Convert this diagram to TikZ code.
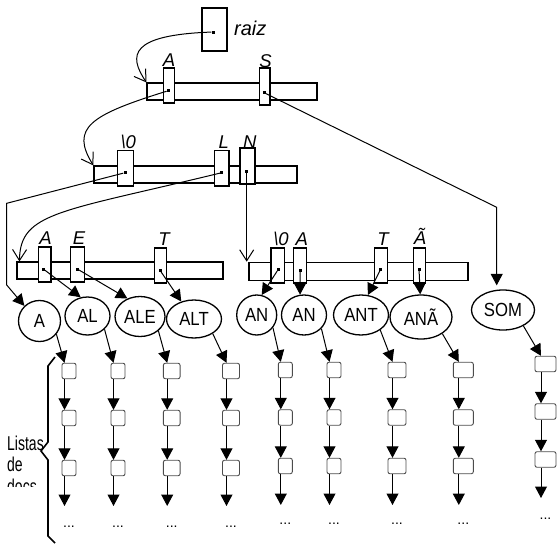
\documentclass[tikz,border=0pt]{standalone}
\usepackage{fontspec}
\usepackage{graphicx}
\setmainfont{Liberation Sans}
\usetikzlibrary{arrows.meta,shapes.geometric,calc}
\newcommand{\elltext}[1]{\scalebox{0.88}[1]{#1}}
\tikzset{
  bar/.style={draw, line width=1.1pt, inner sep=0pt},
  keybox/.style={draw, fill=white, line width=1.4pt, inner sep=0pt},
  dotn/.style={fill, rectangle, minimum size=3pt, inner sep=0pt},
  klabel/.style={anchor=base, inner sep=0pt, font=\fontsize{18.5}{21}\selectfont\itshape},
  ell/.style={draw, ellipse, line width=1.3pt, inner sep=0pt, font=\fontsize{19}{22}\selectfont},
  lbox/.style={draw=black!70, rounded corners=2pt, line width=0.9pt, inner sep=0pt, minimum height=15.5pt},
  openarr/.style={line width=1pt, -{Straight Barb[length=11pt,width=14pt,line width=1pt]}},
  fillarr/.style={line width=1pt, -{Triangle[length=11.5pt,width=12pt]}},
  dotsn/.style={anchor=base, inner sep=0pt, font=\fontsize{14}{16}\selectfont},
  sidetext/.style={anchor=base west, inner sep=0pt, font=\fontsize{20}{22}\selectfont}
}
\begin{document}
\begin{tikzpicture}[x=1pt,y=-1pt]
\useasboundingbox (0,0) rectangle (557,544);

% root
\node[keybox, minimum width=25pt, minimum height=43pt] (root) at (214.5,29.5) {};
\node[dotn] (droot) at (213,32) {};
\node[anchor=base west, inner sep=0pt, font=\fontsize{20}{22}\selectfont\itshape] (traiz) at (234,35) {raiz};

% bars
\node[bar, minimum width=170pt, minimum height=17pt] (b1) at (232,91.5) {};
\node[bar, minimum width=203pt, minimum height=17pt] (b2) at (195.5,174.5) {};
\node[bar, minimum width=206pt, minimum height=17pt] (b3) at (120,270.5) {};
\node[bar, minimum width=219pt, minimum height=18.5pt] (b4) at (358.5,271.5) {};

% keys bar 1
\node[keybox, minimum width=10.5pt, minimum height=35pt] (kA1) at (169,85.5) {};
\node[keybox, minimum width=10.7pt, minimum height=37pt] (kS1) at (264.7,86.5) {};
\node[dotn] (dA1) at (168.3,90.7) {};
\node[dotn] (dS1) at (264,92.7) {};
\node[klabel] (lA1) at (169,66.5) {A};
\node[klabel] (lS1) at (265.5,67.5) {S};

% keys bar 2
\node[keybox, minimum width=15.5pt, minimum height=35.3pt] (k02) at (125.5,168.3) {};
\node[keybox, minimum width=14.7pt, minimum height=35.3pt] (kL2) at (221.7,168.3) {};
\node[keybox, minimum width=15pt, minimum height=36pt] (kN2) at (247.5,166) {};
\node[dotn] (d02) at (125,172.7) {};
\node[dotn] (dL2) at (221.7,172.7) {};
\node[dotn] (dN2) at (246.7,171.7) {};
\node[klabel] (l02) at (128.3,148.5) {\textbackslash 0};
\node[klabel] (lL2) at (223.8,148.3) {L};
\node[klabel] (lN2) at (249.7,148.3) {N};

% keys bar 3
\node[keybox, minimum width=12.7pt, minimum height=35pt] (kA3) at (44.7,264.5) {};
\node[keybox, minimum width=13.6pt, minimum height=35pt] (kE3) at (77.5,264.5) {};
\node[keybox, minimum width=12.4pt, minimum height=35pt] (kT3) at (160.5,265.5) {};
\node[dotn] (dA3) at (43.3,269) {};
\node[dotn] (dE3) at (77.3,269) {};
\node[dotn] (dT3) at (160,270.3) {};
\node[klabel] (lA3) at (45.5,244) {A};
\node[klabel] (lE3) at (79,244) {E};
\node[klabel] (lT3) at (164,245) {T};

% keys bar 4
\node[keybox, minimum width=13.3pt, minimum height=35pt] (k04) at (277.7,265.3) {};
\node[keybox, minimum width=13.4pt, minimum height=35pt] (kA4) at (300,265.3) {};
\node[keybox, minimum width=13pt, minimum height=35pt] (kT4) at (380.8,265.3) {};
\node[keybox, minimum width=12.4pt, minimum height=35pt] (kAt4) at (419.5,265.3) {};
\node[dotn] (d04) at (278.3,269.3) {};
\node[dotn] (dA4) at (300,270) {};
\node[dotn] (dT4) at (380.7,269) {};
\node[dotn] (dAt4) at (419,269) {};
\node[klabel] (l04) at (281,245) {\textbackslash 0};
\node[klabel] (lA4) at (301.7,245) {A};
\node[klabel] (lT4) at (383,245) {T};
\node[klabel] (lAt4) at (420,244.3) {Ã};

% ellipses
\node[ell, minimum width=42pt, minimum height=41pt] (eA) at (39.5,321) {\elltext{A}};
\node[ell, minimum width=45pt, minimum height=38pt] (eAL) at (87.5,316) {\elltext{AL}};
\node[ell, minimum width=50pt, minimum height=40pt] (eALE) at (140,316.5) {\elltext{ALE}};
\node[ell, minimum width=55pt, minimum height=38pt] (eALT) at (194,319) {\elltext{ALT}};
\node[ell, minimum width=40pt, minimum height=40pt] (eANa) at (256.7,315) {\elltext{AN}};
\node[ell, minimum width=45pt, minimum height=40pt] (eANb) at (304,315) {\elltext{AN}};
\node[ell, minimum width=55pt, minimum height=40pt] (eANT) at (361,315) {\elltext{ANT}};
\node[ell, minimum width=62pt, minimum height=44pt] (eANA) at (421,317) {\elltext{ANÃ}};
\node[ell, minimum width=63pt, minimum height=40pt] (eSOM) at (503,310) {\elltext{SOM}};

% trie connectors
\draw[openarr] (droot) .. controls (130,35) and (128,55) .. (b1.north west);
\draw[openarr] (dA1) .. controls (90,115) and (70,128) .. (b2.north west);
\coordinate (sbend) at (496.7,207.3);
\draw[fillarr, shorten >=4pt] (dS1) -- (sbend) -- (sbend |- eSOM.north);
\coordinate (zbend1) at (6.7,203.3);
\coordinate (zbend2) at (6.7,285);
\draw[fillarr] (d02) -- (zbend1) -- (zbend2) -- (eA.135);
\draw[openarr] (dL2) .. controls (60,212) and (20,212) .. ($(b3.north west)+(3,0)$);
\draw[openarr] (dN2) -- (dN2 |- b4.north);

\draw[fillarr] (dA3) -- (eAL.110);
\draw[fillarr] (dE3) -- (eALE.125);
\draw[fillarr] (dT3) -- (eALT.126);
\draw[fillarr] (d04) -- (eANa.76);
\draw[fillarr] (dA4) -- (eANb.101);
\draw[fillarr] (dT4) -- (eANT.71);
\draw[fillarr] (dAt4) -- (eANA.92);

% document lists
\foreach \c/\bx/\bw/\ya/\yb/\yc/\yt/\yd/\e in {
 1/69/14/371/418/468/506/526/eA,
 2/118/14/371/418/468/506/526/eAL,
 3/171.7/16.7/371/418/468/506/526/eALE,
 4/231/17/371/418/468/506/526/eALT,
 5/285.3/14/370/417.5/466/505/523/eANa,
 6/334/14/370/417.5/466/505/523/eANb,
 7/397/18/370/417.5/466/505/523/eANT,
 8/463.3/20/370/417.5/466/505/523/eANA,
 9/545.5/21/364/411.5/459.5/498/518/eSOM}{
  \node[lbox, minimum width=\bw pt] (c\c a) at (\bx,\ya) {};
  \node[lbox, minimum width=\bw pt] (c\c b) at (\bx,\yb) {};
  \node[lbox, minimum width=\bw pt] (c\c c) at (\bx,\yc) {};
  \coordinate (c\c end) at (\bx-4.5,\yt);
  \node[dotsn] (c\c dots) at (\bx,\yd+1.5) {...};
  \draw[fillarr] (\e.-38) -- ($(c\c a.north)+(-4.5,0)$);
  \draw[fillarr] ($(c\c a.south)+(-4.5,0)$) -- ($(c\c b.north)+(-4.5,0)$);
  \draw[fillarr] ($(c\c b.south)+(-4.5,0)$) -- ($(c\c c.north)+(-4.5,0)$);
  \draw[fillarr] ($(c\c c.south)+(-4.5,0)$) -- (c\c end);
}

% brace
\draw[line width=1.6pt, line join=miter] (55,357) -- (48,366) -- (48,442) -- (41,451) -- (48,460) -- (48,536) -- (55,543);

% side text
\begin{scope}
\clip (0,420) rectangle (60,486);
\node[sidetext] (tl1) at (7,450) {\scalebox{0.7}[1]{Listas}};
\node[sidetext] (tl2) at (7,471) {\scalebox{0.7}[1]{de}};
\node[sidetext] (tl3) at (7,493) {\scalebox{0.7}[1]{docs}};
\end{scope}
\end{tikzpicture}
\end{document}
